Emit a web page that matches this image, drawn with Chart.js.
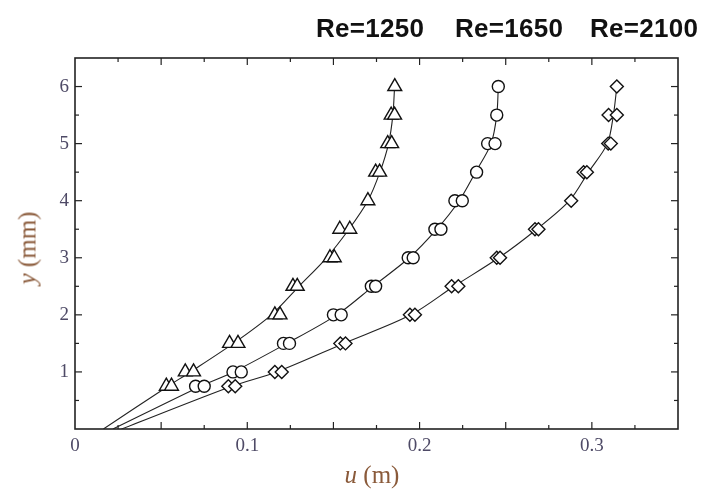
<!DOCTYPE html>
<html><head><meta charset="utf-8">
<script src="https://cdn.jsdelivr.net/npm/chart.js@4/dist/chart.umd.min.js"></script>
<style>
html,body{margin:0;padding:0;background:#fff;}
#wrap{position:relative;width:707px;height:490px;overflow:hidden;}
canvas{position:absolute;left:0;top:0;}
.re{position:absolute;top:15px;font:bold 26px "Liberation Sans",Arial,sans-serif;color:#111;line-height:26px;white-space:nowrap;letter-spacing:0.3px;}
.axt{position:absolute;font:25px "Liberation Serif","Times New Roman",serif;color:#8a5a3a;white-space:nowrap;line-height:25px;}
</style></head><body>
<div id="wrap">
<canvas id="c" width="707" height="490"></canvas>
<div class="re" style="left:316px">Re=1250</div>
<div class="re" style="left:455px">Re=1650</div>
<div class="re" style="left:590px">Re=2100</div>
<div class="axt" style="left:372px;top:462px;transform:translateX(-50%)"><i>u</i> (m)</div>
<div class="axt" style="left:27px;top:248px;transform:translate(-50%,-50%) rotate(-90deg)"><i>y</i> (mm)</div>
</div>
<script>
// ---- data (u in m, y in mm) ----
const re1250U = [0.1856,0.1835,0.1855,0.1815,0.1838,0.1745,0.1768,0.1700,0.1537,0.1595,0.1480,0.1505,0.1265,0.1290,0.1160,0.1190,0.0897,0.0946,0.0640,0.0688,0.0530,0.0560];
const re1250Y = [6,5.5,5.5,5,5,4.5,4.5,4,3.5,3.5,3,3,2.5,2.5,2,2,1.5,1.5,1,1,0.75,0.75];
const re1650U = [0.2457,0.2448,0.2395,0.2438,0.2331,0.2205,0.2248,0.2089,0.2124,0.1934,0.1963,0.1720,0.1745,0.1500,0.1545,0.1210,0.1245,0.0917,0.0965,0.0700,0.0750];
const re1650Y = [6,5.5,5,5,4.5,4,4,3.5,3.5,3,3,2.5,2.5,2,2,1.5,1.5,1,1,0.75,0.75];
const re2100U = [0.3145,0.3097,0.3145,0.3095,0.3110,0.2952,0.2971,0.2880,0.2670,0.2690,0.2448,0.2467,0.2186,0.2225,0.1944,0.1973,0.1540,0.1570,0.1160,0.1200,0.0890,0.0930];
const re2100Y = [6,5.5,5.5,5,5,4.5,4.5,4,3.5,3.5,3,3,2.5,2.5,2,2,1.5,1.5,1,1,0.75,0.75];
// fitted curves
const fitY     = [0,0.75,1.0,1.5,2.0,2.5,3.0,3.5,4.0,4.5,5.0,5.5,6.0];
const fit1250U = [0.0165,0.054,0.067,0.092,0.114,0.130,0.146,0.159,0.170,0.177,0.182,0.1845,0.1855];
const fit1650U = [0.022,0.073,0.092,0.123,0.152,0.173,0.194,0.210,0.223,0.2325,0.2415,0.2448,0.2457];
const fit2100U = [0.027,0.091,0.117,0.156,0.195,0.220,0.246,0.268,0.287,0.298,0.309,0.3125,0.3145];
// axis ticks
const xTickLabels = [0,0.1,0.2,0.3];
const yTickLabels = [1,2,3,4,5,6];
const xMajor = [0.05,0.1,0.15,0.2,0.25,0.3];
const xMinor = [0.025,0.075,0.125,0.175,0.225,0.275,0.325];
const yMajor = [1,2,3,4,5,6];
const yMinor = [0.5,1.5,2.5,3.5,4.5,5.5];

const toPts = (u,y)=>u.map((v,i)=>({x:v,y:y[i]}));
const mk = (label,u,y,style,r)=>({label,data:toPts(u,y),showLine:false,pointStyle:style,pointRadius:r,pointHoverRadius:r,
  pointBorderWidth:1.4,pointBackgroundColor:'#fff',pointBorderColor:'#111'});
const fit = (label,u)=>({label,data:toPts(u,fitY),showLine:true,pointRadius:0,borderColor:'#222',borderWidth:1.1,tension:0.3,fill:false});

const frame = {id:'frame', afterDatasetsDraw(chart){
  const {ctx, chartArea:a, scales:{x,y}} = chart;
  ctx.save();
  ctx.strokeStyle='#222';
  const ln=(x1,y1,x2,y2)=>{ctx.beginPath();ctx.moveTo(x1,y1);ctx.lineTo(x2,y2);ctx.stroke();};
  ctx.lineWidth=1.2;
  xMajor.forEach(v=>{const p=x.getPixelForValue(v);ln(p,a.bottom,p,a.bottom-7);ln(p,a.top,p,a.top+7);});
  xMinor.forEach(v=>{const p=x.getPixelForValue(v);ln(p,a.bottom,p,a.bottom-4);ln(p,a.top,p,a.top+4);});
  yMajor.forEach(v=>{const p=y.getPixelForValue(v);ln(a.left,p,a.left+7,p);ln(a.right,p,a.right-7,p);});
  yMinor.forEach(v=>{const p=y.getPixelForValue(v);ln(a.left,p,a.left+4,p);ln(a.right,p,a.right-4,p);});
  ctx.lineWidth=1.6;
  ctx.strokeRect(a.left,a.top,a.right-a.left,a.bottom-a.top);
  ctx.restore();
}};

const tickFont = {family:'"Liberation Serif","Times New Roman",serif', size:19};
new Chart(document.getElementById('c'), {
  type:'scatter',
  data:{datasets:[
    mk('Re=1250',re1250U,re1250Y,'triangle',8),
    mk('Re=1650',re1650U,re1650Y,'circle',6),
    mk('Re=2100',re2100U,re2100Y,'rectRot',6.5),
    fit('fit 1250',fit1250U),
    fit('fit 1650',fit1650U),
    fit('fit 2100',fit2100U)
  ]},
  options:{
    responsive:false, animation:false, devicePixelRatio:1,
    layout:{padding:{top:58,right:29,left:0,bottom:0}},
    plugins:{legend:{display:false},tooltip:{enabled:false},title:{display:false}},
    scales:{
      x:{type:'linear',min:0,max:0.35,
        afterBuildTicks:s=>{s.ticks=xTickLabels.map(v=>({value:v}));},
        afterFit:s=>{s.height=61;},
        grid:{display:false,drawTicks:false},border:{display:false},
        ticks:{font:tickFont,color:'#4e4a66',padding:6,maxRotation:0,autoSkip:false,callback:v=>String(v)}},
      y:{type:'linear',min:0,max:6.5,
        afterBuildTicks:s=>{s.ticks=yTickLabels.map(v=>({value:v}));},
        afterFit:s=>{s.width=75;},
        grid:{display:false,drawTicks:false},border:{display:false},
        ticks:{font:tickFont,color:'#4e4a66',padding:6,autoSkip:false,callback:v=>String(v)}}
    }
  },
  plugins:[frame]
});
</script>
</body></html>
